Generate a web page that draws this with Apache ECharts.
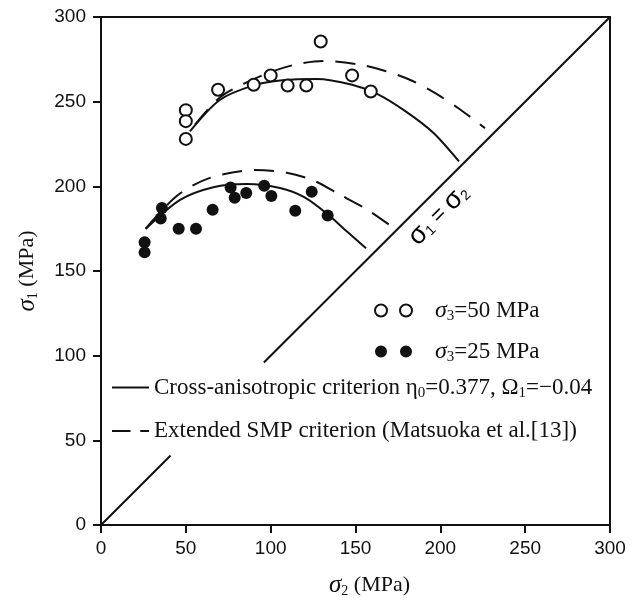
<!DOCTYPE html>
<html>
<head>
<meta charset="utf-8">
<script src="https://cdn.jsdelivr.net/npm/echarts@6/dist/echarts.min.js"></script>
<style>
  html, body { margin: 0; padding: 0; background: #fff; }
  #chart { width: 638px; height: 598px; }
</style>
</head>
<body>
<div id="chart"></div>
<script>
// axis ticks
const xTicks = [0, 50, 100, 150, 200, 250, 300];
const yTicks = [0, 50, 100, 150, 200, 250, 300];

// test points, sigma3 = 50 MPa (open circles)
const open50X = [50, 50, 50, 69, 90, 100, 110, 121, 129.5, 148, 159];
const open50Y = [245, 238.5, 228, 257, 260, 265.5, 259.5, 259.5, 285.5, 265.5, 256];

// test points, sigma3 = 25 MPa (filled circles)
const fill25X = [25.7, 25.7, 35.9, 35.2, 45.8, 56, 65.8, 76.4, 78.8, 85.6, 96.2, 100.4, 114.5, 124.2, 133.6];
const fill25Y = [167, 161, 187.2, 181, 175, 175, 186.2, 199.3, 193.3, 196, 200.4, 194.3, 185.6, 196.8, 182.8];

// cross-anisotropic criterion curves
const cross50X = [52.4, 70, 90, 107, 127, 148, 163, 180, 196, 211];
const cross50Y = [232.4, 251, 259.6, 262.6, 263.4, 260, 254.5, 244, 231.5, 214.7];
const cross25X = [26.3, 46.6, 66.2, 85.9, 105.5, 120, 133.6, 145, 156.2];
const cross25Y = [174.8, 192, 199.5, 201.4, 199, 193.5, 183.5, 173.3, 163.5];

// extended SMP criterion curves
const smp50X = [55.4, 70, 84, 100, 115, 131, 151.6, 168, 183, 197, 211.5, 226.3];
const smp50Y = [236.4, 252.5, 260.5, 267.5, 272, 274, 272, 268, 262.5, 255, 245.5, 234.4];
const smp25X = [26.3, 45, 64.2, 90.7, 109.4, 125.1, 140, 156.5, 171.3];
const smp25Y = [175, 194.6, 205, 209.6, 208, 203.5, 195.5, 186.5, 176.3];

// sigma1 = sigma2 line (broken where the legend sits)
const diagX = [0, 41, null, 96, 300];
const diagY = [0, 41, null, 96, 300];

const nameOpen = 'σ3=50 MPa';
const nameFill = 'σ3=25 MPa';
const nameCross = 'Cross-anisotropic criterion η0=0.377, Ω1=−0.04';
const nameSmp = 'Extended SMP criterion (Matsuoka et al.[13])';

function pairs(xs, ys) {
  return xs.map((x, i) => (x === null ? ['-', '-'] : [x, ys[i]]));
}

const serif = '"Liberation Serif", "Times New Roman", serif';
const sans = '"Liberation Sans", Arial, sans-serif';

function makeRich(lead) {
  return {
    s: { fontFamily: serif, fontStyle: 'italic', fontSize: 24, lineHeight: 26, color: '#111', padding: [0, 0, 0, lead] },
    g: { fontFamily: serif, fontSize: 23, lineHeight: 26, color: '#111' },
    sub: { fontFamily: serif, fontSize: 15, lineHeight: 26, color: '#111', padding: [12, 0, 0, 0] },
    t: { fontFamily: serif, fontSize: 23, lineHeight: 26, color: '#111' }
  };
}

function legendText(name) {
  if (name === nameOpen) return '{s|σ}{sub|3}{t|=50 MPa}';
  if (name === nameFill) return '{s|σ}{sub|3}{t|=25 MPa}';
  if (name === nameCross) return '{t|Cross-anisotropic criterion }{g|η}{sub|0}{t|=0.377, }{g|Ω}{sub|1}{t|=−0.04}';
  return '{t|' + name + '}';
}

const twoCircles = 'path://M0,6a6,6 0 1,0 12,0a6,6 0 1,0 -12,0M25,6a6,6 0 1,0 12,0a6,6 0 1,0 -12,0';
const solidIcon = 'path://M0,0H38V2H0Z';
const dashIcon = 'path://M0,0H19V2H0ZM29,0H38V2H29Z';

let myChart = echarts.init(document.getElementById('chart'));

let axisNameRich = {
  s: { fontFamily: serif, fontStyle: 'italic', fontSize: 25, lineHeight: 28, color: '#111' },
  sub: { fontFamily: serif, fontSize: 14, lineHeight: 28, color: '#111', padding: [12, 0, 0, 0] },
  t: { fontFamily: serif, fontSize: 22, lineHeight: 28, color: '#111' }
};

let option = {
  animation: false,
  backgroundColor: '#fff',
  grid: {
    left: 101, right: 28, top: 17, bottom: 73,
    outerBoundsMode: 'none',
    containLabel: false,
    show: true, borderColor: '#111', borderWidth: 2, backgroundColor: 'transparent'
  },
  xAxis: {
    type: 'value', min: xTicks[0], max: xTicks[xTicks.length - 1], interval: 50,
    name: '{s|σ}{sub|2}{t| (MPa)}',
    nameLocation: 'middle', nameGap: 46,
    nameTextStyle: { rich: axisNameRich, padding: [0, 0, 0, 28] },
    axisLine: { lineStyle: { color: '#111', width: 2 } },
    axisTick: { show: true, length: 8, inside: false, lineStyle: { color: '#111', width: 2 } },
    axisLabel: { fontFamily: sans, fontSize: 19, color: '#111', margin: 14 },
    splitLine: { show: false }
  },
  yAxis: {
    type: 'value', min: yTicks[0], max: yTicks[yTicks.length - 1], interval: 50,
    name: '{s|σ}{sub|1}{t| (MPa)}',
    nameLocation: 'middle', nameGap: 60, nameRotate: 90,
    nameTextStyle: { rich: axisNameRich },
    axisLine: { lineStyle: { color: '#111', width: 2 } },
    axisTick: { show: true, length: 8, inside: false, lineStyle: { color: '#111', width: 2 } },
    axisLabel: { fontFamily: sans, fontSize: 19, color: '#111', margin: 15 },
    splitLine: { show: false }
  },
  legend: [
    {
      data: [nameOpen, nameFill],
      orient: 'vertical', left: 374, top: 297, padding: 0, itemGap: 14,
      icon: twoCircles, itemWidth: 37, itemHeight: 12,
      selectedMode: false,
      formatter: legendText,
      textStyle: { rich: makeRich(18), lineHeight: 26 }
    },
    {
      data: [
        { name: nameCross, icon: solidIcon, itemStyle: { color: '#111', borderWidth: 0 } },
        { name: nameSmp, icon: dashIcon, itemStyle: { color: '#111', borderWidth: 0 } }
      ],
      orient: 'vertical', left: 112, top: 374, padding: 0, itemGap: 17,
      itemWidth: 37, itemHeight: 2,
      selectedMode: false,
      formatter: legendText,
      textStyle: { rich: makeRich(0), lineHeight: 26 }
    }
  ],
  series: [
    {
      type: 'line', data: pairs(diagX, diagY), symbol: 'none', silent: true,
      lineStyle: { color: '#111', width: 2 }, connectNulls: false, z: 1
    },
    {
      name: nameCross, type: 'line', data: pairs(cross50X, cross50Y), smooth: 0.3,
      symbol: 'none', lineStyle: { color: '#111', width: 2, type: 'solid' }, itemStyle: { color: '#111' }
    },
    {
      name: nameCross, type: 'line', data: pairs(cross25X, cross25Y), smooth: 0.3,
      symbol: 'none', lineStyle: { color: '#111', width: 2, type: 'solid' }, itemStyle: { color: '#111' }
    },
    {
      name: nameSmp, type: 'line', data: pairs(smp50X, smp50Y), smooth: 0.3,
      symbol: 'none', lineStyle: { color: '#111', width: 2, type: [20, 12] }, itemStyle: { color: '#111' }
    },
    {
      name: nameSmp, type: 'line', data: pairs(smp25X, smp25Y), smooth: 0.3,
      symbol: 'none', lineStyle: { color: '#111', width: 2, type: [20, 12] }, itemStyle: { color: '#111' }
    },
    {
      name: nameOpen, type: 'scatter', data: pairs(open50X, open50Y), symbol: 'circle', symbolSize: 12,
      itemStyle: { color: '#fff', borderColor: '#111', borderWidth: 2, opacity: 1 }, z: 5
    },
    {
      name: nameFill, type: 'scatter', data: pairs(fill25X, fill25Y), symbol: 'circle', symbolSize: 12,
      itemStyle: { color: '#111', borderColor: '#111', borderWidth: 0, opacity: 1 }, z: 5
    },
    {
      type: 'scatter', data: [[199, 183]], symbolSize: 1, silent: true,
      itemStyle: { color: 'rgba(0,0,0,0)', opacity: 1 },
      label: {
        show: true, position: 'inside', rotate: 45, opacity: 1,
        color: '#000', textBorderWidth: 0,
        formatter: '{s|σ}{sub|1}{t| = }{s|σ}{sub|2}',
        rich: {
          s: { fontFamily: sans, fontSize: 27, lineHeight: 28, color: '#000' },
          sub: { fontFamily: sans, fontSize: 14, lineHeight: 28, color: '#000', padding: [11, 0, 0, 0] },
          t: { fontFamily: sans, fontSize: 22, lineHeight: 28, color: '#000' }
        }
      }
    }
  ]
};

myChart.setOption(option);
</script>
</body>
</html>
